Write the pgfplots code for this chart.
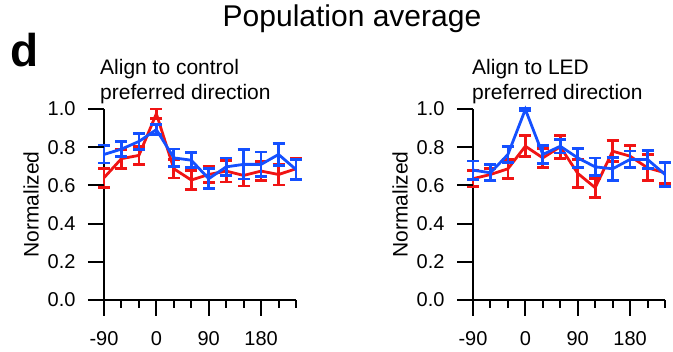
\documentclass[border=0pt]{standalone}
\usepackage{fontspec}
\setmainfont{Liberation Sans}
\usepackage{pgfplots}
\usepackage{pgfplotstable}
\pgfplotsset{compat=1.18}
\definecolor{myred}{RGB}{240,20,20}
\definecolor{myblue}{RGB}{20,80,255}

\pgfplotstableread{
x y e
-90 0.64 0.05
-60 0.74 0.05
-30 0.757 0.048
0 0.975 0.025
30 0.687 0.048
60 0.628 0.048
90 0.657 0.042
120 0.675 0.057
150 0.652 0.055
180 0.675 0.05
210 0.657 0.055
240 0.687 0.055
}\leftred
\pgfplotstableread{
x y e
-90 0.762 0.045
-60 0.79 0.04
-30 0.83 0.042
0 0.892 0.026
30 0.744 0.047
60 0.732 0.04
90 0.635 0.052
120 0.697 0.046
150 0.71 0.077
180 0.71 0.065
210 0.762 0.057
240 0.683 0.054
}\leftblue
\pgfplotstableread{
x y e
-90 0.635 0.041
-60 0.657 0.03
-30 0.687 0.05
0 0.805 0.055
30 0.744 0.05
60 0.802 0.06
90 0.663 0.073
120 0.588 0.05
150 0.779 0.055
180 0.753 0.057
210 0.692 0.068
240 0.666 0.054
}\rightred
\pgfplotstableread{
x y e
-90 0.68 0.048
-60 0.666 0.042
-30 0.762 0.042
0 0.998 0.005
30 0.762 0.046
60 0.805 0.035
90 0.744 0.05
120 0.697 0.046
150 0.687 0.06
180 0.736 0.044
210 0.736 0.048
240 0.657 0.062
}\rightblue

\pgfplotsset{panel/.style={
  scale only axis, width=192pt, height=191pt,
  xmin=-90, xmax=240, ymin=0, ymax=1,
  axis x line*=bottom, axis y line*=left,
  xtick={-90,0,90,180},
  minor xtick={-60,-30,30,60,120,150,210,240},
  ytick={0,0.2,0.4,0.6,0.8,1.0},
  yticklabel style={xshift=-9pt, /pgf/number format/.cd, fixed, fixed zerofill, precision=1},
  xticklabel style={yshift=-12pt, /pgf/number format/.cd, fixed, precision=0},
  /pgf/number format/assume math mode=true,
  tick style={black, line width=2pt},
  major tick length=16pt, minor tick length=8pt,
  tick align=outside,
  axis line style={-, black, line width=2pt},
  ticklabel style={font=\fontsize{20}{20}\selectfont},
  ylabel style={font=\fontsize{21}{21}\selectfont, at={(axis description cs:0,0.5)}, anchor=center, yshift=73pt},
  ylabel={Normalized},
  clip=false,
  every axis plot/.append style={line width=2.8pt, mark=none},
  error bars/error bar style={line width=2.8pt},
  error bars/error mark options={rotate=90, mark size=6pt, line width=2.8pt},
}}

\begin{document}
\begin{tikzpicture}[x=1pt,y=1pt]
\useasboundingbox (0,0) rectangle (673,352);
\begin{axis}[panel, at={(104pt,52pt)}, anchor=south west]
\addplot[myred, error bars/.cd, y dir=both, y explicit] table[x=x, y=y, y error=e] {\leftred};
\addplot[myblue, error bars/.cd, y dir=both, y explicit] table[x=x, y=y, y error=e] {\leftblue};
\end{axis}
\begin{axis}[panel, at={(473pt,52pt)}, anchor=south west]
\addplot[myred, error bars/.cd, y dir=both, y explicit] table[x=x, y=y, y error=e] {\rightred};
\addplot[myblue, error bars/.cd, y dir=both, y explicit] table[x=x, y=y, y error=e] {\rightblue};
\end{axis}
% tick marks drawn on the picture as well, at the axes' tick positions
\foreach \ox in {104,473} {
  \foreach \t in {0,90,180,270} {
    \draw[black, line width=2pt] ({\ox+\t*0.581818},52) -- ({\ox+\t*0.581818},36);
  }
  \foreach \t in {30,60,120,150,210,240,300,330} {
    \draw[black, line width=2pt] ({\ox+\t*0.581818},52) -- ({\ox+\t*0.581818},44);
  }
  \foreach \v in {0,38.2,76.4,114.6,152.8,191} {
    \draw[black, line width=2pt] (\ox,{52+\v}) -- ({\ox-16},{52+\v});
  }
}
\node[anchor=base, font=\fontsize{30}{30}\selectfont, inner sep=0pt] at (352,325) {Population average};
\node[anchor=base west, font=\fontsize{46}{46}\selectfont\bfseries, inner sep=0pt] at (10,285) {d};
\node[anchor=base west, font=\fontsize{21}{21}\selectfont, inner sep=0pt] at (100,277) {Align to control};
\node[anchor=base west, font=\fontsize{21}{21}\selectfont, inner sep=0pt] at (100,252) {preferred direction};
\node[anchor=base west, font=\fontsize{21}{21}\selectfont, inner sep=0pt] at (472,277) {Align to LED};
\node[anchor=base west, font=\fontsize{21}{21}\selectfont, inner sep=0pt] at (472,252) {preferred direction};
\end{tikzpicture}
\end{document}
